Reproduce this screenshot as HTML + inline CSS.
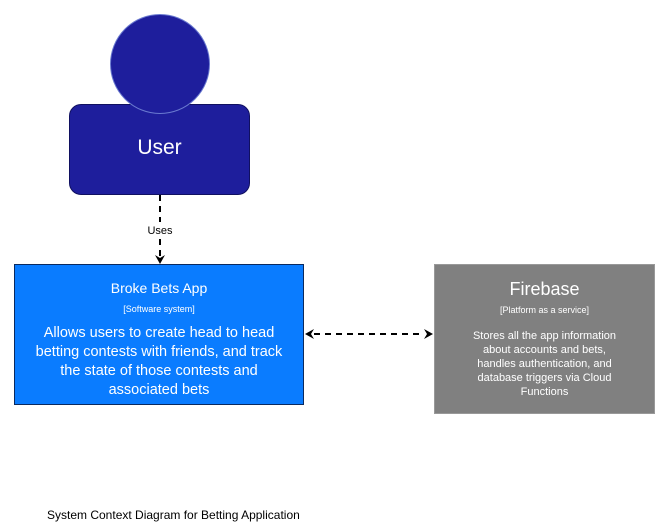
<!DOCTYPE html>
<html><head><style>
body{margin:0;width:662px;height:532px;background:#fff;font-family:"Liberation Sans",Arial,sans-serif;position:relative;overflow:hidden}
.a{position:absolute;box-sizing:border-box}
.t{position:absolute;left:0;right:0;text-align:center;color:#fff}
</style></head><body>
<div class="a" style="left:69px;top:104px;width:181px;height:91px;background:#1e1e9c;border:1px solid #101060;border-radius:12px"></div>
<div class="a" style="left:110px;top:14px;width:100px;height:100px;border-radius:50%;background:#1e1e9c;border:1px solid #6a7ad0"></div>
<div class="a" style="left:69px;top:136px;width:181px;text-align:center;color:#fff;font-size:21px">User</div>

<svg class="a" style="left:0;top:0" width="662" height="532">
<line x1="160" y1="195" x2="160" y2="256" stroke="#000" stroke-width="2" stroke-dasharray="6,5"/>
<rect x="140" y="222" width="40" height="15" fill="#fff"/>
<text x="160" y="234" font-size="11" text-anchor="middle" font-family="Liberation Sans,Arial,sans-serif">Uses</text>
<polygon points="155,255 160,264 165,255 160,258" fill="#000"/>
<line x1="314" y1="334" x2="424" y2="334" stroke="#000" stroke-width="2" stroke-dasharray="6,5"/>
<polygon points="305,334 314,329 311,334 314,339" fill="#000"/>
<polygon points="433,334 424,329 427,334 424,339" fill="#000"/>
</svg>

<div class="a" style="left:14px;top:264px;width:290px;height:141px;background:#0a7cff;border:1px solid #0a2a60">
<div class="t" style="top:15px;font-size:14px">Broke Bets App</div>
<div class="t" style="top:39px;font-size:9px">[Software system]</div>
<div class="t" style="top:59px;font-size:14.5px;line-height:19px;padding:0 10px">Allows users to create head to head betting contests with friends, and track the state of those contests and associated bets</div>
</div>

<div class="a" style="left:434px;top:264px;width:221px;height:150px;background:#808080;border:1px solid #999">
<div class="t" style="top:14px;font-size:18px">Firebase</div>
<div class="t" style="top:40px;font-size:9px">[Platform as a service]</div>
<div class="t" style="top:64px;font-size:11px;line-height:14px;padding:0 30px">Stores all the app information about accounts and bets, handles authentication, and database triggers via Cloud Functions</div>
</div>

<div class="a" style="left:47px;top:508px;font-size:12px;color:#000">System Context Diagram for Betting Application</div>
</body></html>
